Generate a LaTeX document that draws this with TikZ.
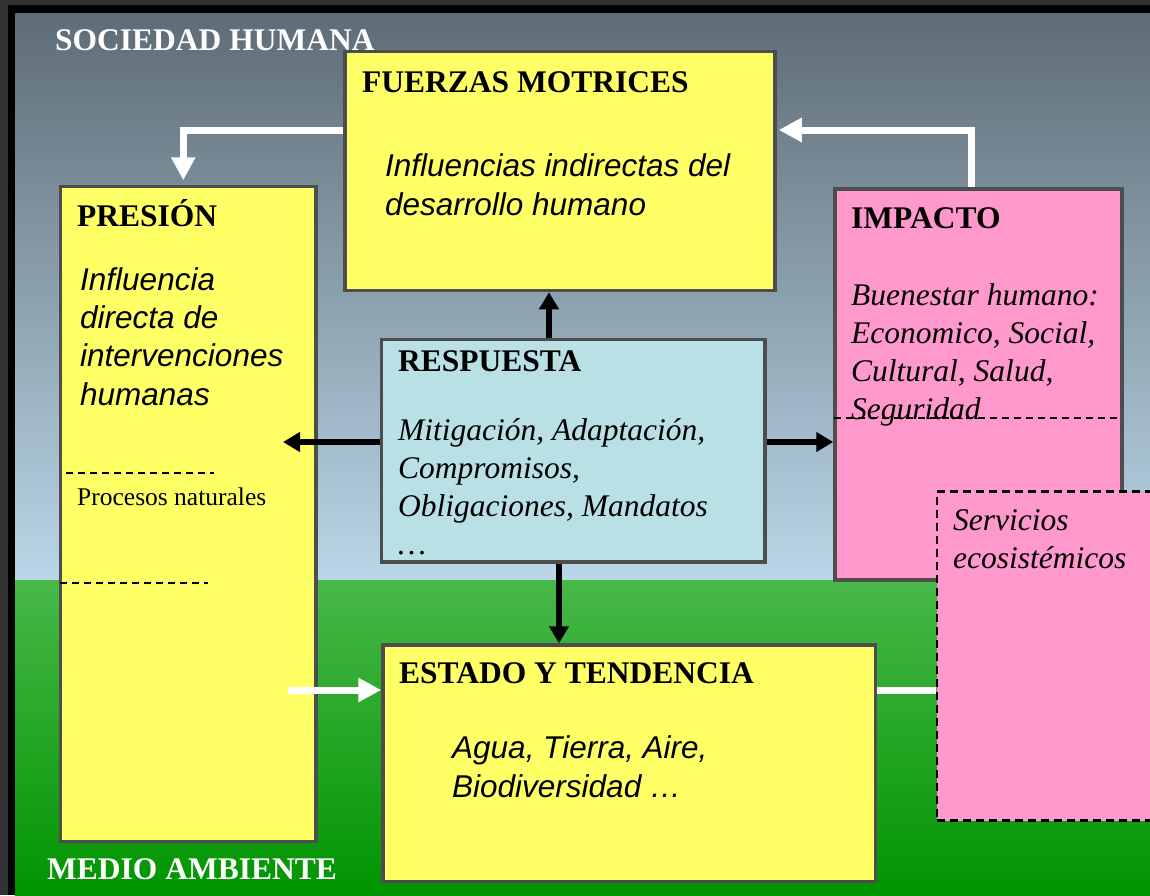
\documentclass[tikz,border=0pt]{standalone}
\usepackage{fontspec}
\setmainfont{Liberation Serif}
\setsansfont{Liberation Sans}
\usetikzlibrary{arrows.meta}

\definecolor{framegray}{RGB}{50,50,50}
\definecolor{boxgray}{RGB}{77,77,77}
\definecolor{boxyellow}{RGB}{255,255,102}
\definecolor{boxpink}{RGB}{255,153,204}
\definecolor{boxcyan}{RGB}{185,224,228}
\definecolor{skytop}{RGB}{94,108,118}
\definecolor{skybot}{RGB}{186,214,232}
\definecolor{grasstop}{RGB}{72,184,72}
\definecolor{grassbot}{RGB}{0,148,0}

\begin{document}
\begin{tikzpicture}[x=1pt,y=-1pt,
  box/.style={draw=boxgray, line width=3.5pt, inner sep=0pt},
  head/.style={anchor=base west, inner sep=0pt, font=\fontsize{31.5}{38}\selectfont\bfseries},
  zone/.style={head, text=white},
  sanstxt/.style={anchor=base west, inner sep=0pt, align=left, font=\fontsize{31.5}{38.3}\selectfont\sffamily\itshape},
  serftxt/.style={anchor=base west, inner sep=0pt, align=left, font=\fontsize{31.5}{38}\selectfont\itshape},
  divider/.style={line width=2pt, dash pattern=on 7pt off 5pt},
  whitearrow/.style={white, line width=7pt, -{Triangle[length=23pt,width=23pt]}},
  blackarrow/.style={black, line width=5.5pt, -{Triangle[length=17pt,width=19pt]}}]
\useasboundingbox (0,0) rectangle (1150,895);
\clip (0,0) rectangle (1150,895);

\fill[framegray] (0,0) rectangle (1150,895);
\fill[black] (8,5) rectangle (1150,895);
\shade[top color=skytop, bottom color=skybot] (15,13) rectangle (1150,580);
\shade[top color=grasstop, bottom color=grassbot] (15,580) rectangle (1150,895);

\node[box, fill=boxyellow, minimum width=430pt, minimum height=239pt] (fuerzas) at (560,171) {};
\node[box, fill=boxyellow, minimum width=255.5pt, minimum height=655pt] (presion) at (188.25,514) {};
\node[box, fill=boxpink, minimum width=287pt, minimum height=391pt] (impacto) at (978.5,384.5) {};
\node[box, fill=boxcyan, minimum width=383.5pt, minimum height=222.5pt] (respuesta) at (573.25,450.75) {};
\node[box, fill=boxyellow, minimum width=492.5pt, minimum height=236.5pt] (estado) at (629.25,763.25) {};
\node[draw=black, fill=boxpink, line width=2.5pt, dash pattern=on 8pt off 5pt, inner sep=0pt,
  minimum width=223pt, minimum height=329pt] (servicios) at (1048.5,656) {};

\draw[divider] (66,473) -- (214,473);
\draw[divider] (60,583) -- (208,583);
\draw[divider] (834,418) -- (1120,418);

\node[zone] (sociedad) at (55,50) {SOCIEDAD HUMANA};
\node[zone] (medio) at (47,879) {MEDIO AMBIENTE};

\node[head] (fuerzasT) at (362,92) {FUERZAS MOTRICES};
\node[sanstxt] (fuerzasD) at (385,215) {Influencias indirectas del\\desarrollo humano};
\node[head] (presionT) at (77,226) {PRESIÓN};
\node[sanstxt] (presionD) at (80,405) {Influencia\\directa de\\intervenciones\\humanas};
\node[anchor=base west, inner sep=0pt, font=\fontsize{25.5}{30}\selectfont] (procesos) at (77,505) {Procesos naturales};
\node[head] (impactoT) at (851,228) {IMPACTO};
\node[serftxt] (impactoD) at (851,419) {Buenestar humano:\\Economico, Social,\\Cultural, Salud,\\Seguridad};
\node[head] (respuestaT) at (398,371) {RESPUESTA};
\node[serftxt] (respuestaD) at (398,554) {Mitigación, Adaptación,\\Compromisos,\\Obligaciones, Mandatos\\…};
\node[serftxt] (serviciosD) at (953,568) {Servicios\\ecosistémicos};
\node[head] (estadoT) at (399,683) {ESTADO Y TENDENCIA};
\node[sanstxt] (estadoD) at (452,797) {Agua, Tierra, Aire,\\Biodiversidad …};

\coordinate (presionIn) at (283,442);
\coordinate (presionOut) at (288,690);
\draw[whitearrow, shorten >=4.5pt] ([yshift=41pt]fuerzas.west) -| ([xshift=-5pt]presion.north);
\draw[whitearrow, shorten >=2pt] ([xshift=-7.5pt]impacto.north) |- ([yshift=41pt]fuerzas.east);
\draw[whitearrow] (presionOut) -- ([yshift=73.25pt]estado.west);
\draw[white, line width=7pt] ([yshift=73.25pt]estado.east) -- ([yshift=-34pt]servicios.west);

\draw[blackarrow] ([xshift=-24.25pt]respuesta.north) -- ([xshift=-11pt]fuerzas.south);
\draw[blackarrow] ([yshift=8.75pt]respuesta.west) -- (presionIn);
\draw[blackarrow] ([yshift=8.75pt]respuesta.east) -- ([yshift=-57.5pt]impacto.west);
\draw[blackarrow] ([xshift=-14.25pt]respuesta.south) -- ([xshift=-70.25pt]estado.north);
\end{tikzpicture}
\end{document}
